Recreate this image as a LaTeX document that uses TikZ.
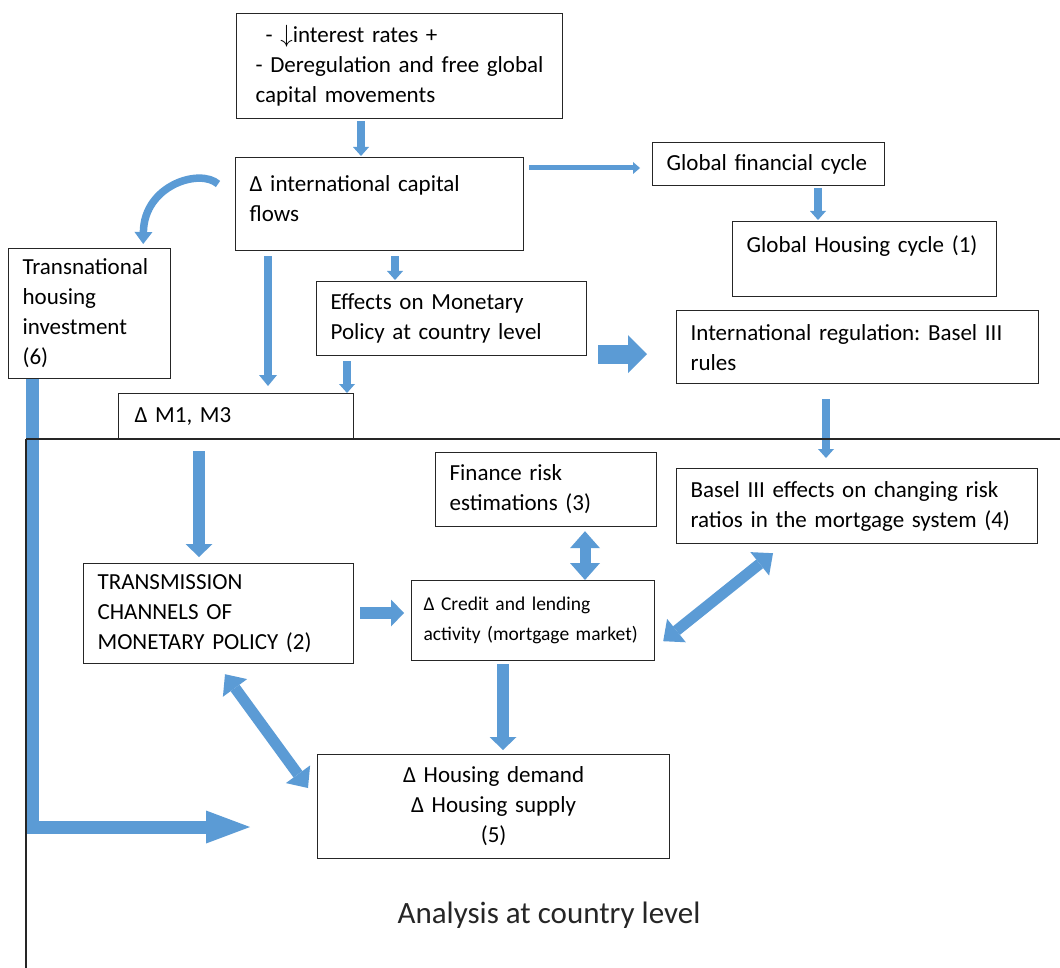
\documentclass[tikz,border=0pt]{standalone}
\usepackage{fontspec}
\setmainfont{Carlito}
\frenchspacing
\usetikzlibrary{arrows.meta,calc}
\definecolor{arrowblue}{HTML}{5B9BD5}
\definecolor{dark}{HTML}{262626}
\tikzset{
  box/.style={draw=dark, line width=1.2pt, anchor=north west, align=left, inner xsep=14pt, inner ysep=0pt, font=\fontsize{23}{30}\selectfont, execute at begin node={\hyphenpenalty=10000}},
  thinarrow/.style={draw=arrowblue, line width=5pt, -{Triangle[length=7pt,width=12pt,line width=0pt]}},
  smallarrow/.style={draw=arrowblue, line width=7.5pt, -{Triangle[length=9pt,width=16pt,line width=0pt]}},
  midarrow/.style={draw=arrowblue, line width=8pt, -{Triangle[length=11pt,width=18pt,line width=0pt]}},
  fatarrow/.style={draw=arrowblue, line width=12.5pt, -{Triangle[length=13pt,width=27pt,line width=0pt]}},
  bigarrow/.style={draw=arrowblue, line width=19pt, -{Triangle[length=19pt,width=38pt,line width=0pt]}},
  dblarrow/.style={draw=arrowblue, line width=11pt, {Triangle[length=17pt,width=30pt,line width=0pt]}-{Triangle[length=17pt,width=30pt,line width=0pt]}},
  curvearrow/.style={draw=arrowblue, line width=7.5pt, -{Triangle[length=12pt,width=18pt,line width=0pt]}},
  bentarrow/.style={draw=arrowblue, line width=13pt, line join=miter, -{Triangle[length=44pt,width=33pt,line width=0pt]}},
  divider/.style={draw=dark, line width=1.2pt}
}
\begin{document}
\begin{tikzpicture}[x=1pt, y=-1pt]
  \path[use as bounding box, fill=white] (0,0) rectangle (1060,968);
  % global level
  \node[box, inner xsep=19pt, text width=288pt, minimum height=105pt] (drivers) at (236,13) {\hspace*{10pt}- $\downarrow$interest rates +\\- Deregulation and free global\\capital movements};
  \node[box, text width=260pt, minimum height=93pt] (capflows) at (235,157) {Δ international capital\\flows\\[-18pt]\mbox{}};
  \node[box, text width=204pt, minimum height=43pt] (globalfin) at (652,142) {Global financial cycle};
  \node[box, text width=236pt, minimum height=75pt] (ghc) at (732,221) {Global Housing cycle (1)\\\mbox{}};
  \node[box, text width=334pt, minimum height=73pt] (intlreg) at (676,310) {International regulation: Basel III\\rules};
  \node[box, text width=134pt, minimum height=130pt] (transnat) at (8,248) {Transnational\\housing\\investment\\(6)};
  \node[box, text width=242pt, minimum height=74pt] (effects) at (316,281) {Effects on Monetary\\Policy at country level};
  \node[box, inner xsep=16pt, text width=203pt, minimum height=45pt] (money) at (118,393) {Δ M1, M3};
  % country level
  \node[box, text width=242pt, minimum height=100pt] (channels) at (83,563) {TRANSMISSION\\CHANNELS OF\\MONETARY POLICY (2)};
  \node[box, inner xsep=12pt, text width=219pt, minimum height=80pt, font=\fontsize{19.5}{30}\selectfont] (credit) at (411,580) {Δ Credit and lending\\activity~(mortgage~market)};
  \node[box, text width=193pt, minimum height=74pt] (risk) at (435,452) {Finance risk\\estimations (3)};
  \node[box, text width=333pt, minimum height=75pt] (baselfx) at (676,468) {Basel III effects on changing risk\\ratios in the mortgage system (4)};
  \node[box, align=center, text width=324pt, minimum height=104pt] (housing) at (317,754) {Δ Housing demand\\Δ Housing supply\\(5)};
  \node[font=\fontsize{31}{38}\selectfont, text=black!85] (analysis) at (549,915) {Analysis at country level};
  \coordinate (invest) at (250,827);

  \draw[smallarrow] ($(drivers.south west)+(125,2)$) -- ($(capflows.north west)+(126,-1)$);
  \draw[thinarrow] ($(capflows.north east)+(5,11)$) -- ($(globalfin.west |- capflows.north east)+(-12,11)$);
  \draw[smallarrow] ($(globalfin.south west)+(166,2)$) -- ($(ghc.north west)+(86,-1)$);
  \draw[curvearrow] ($(capflows.north west)+(-17,27)$) .. controls ($(capflows.north west)+(-35,11)$) and ($(transnat.north east)+(-27,-63)$) .. ($(transnat.north east)+(-28,-4)$);
  \draw[midarrow] ($(capflows.south west)+(33,5)$) -- ($(money.north west)+(150,-7)$);
  \draw[smallarrow] ($(capflows.south west)+(160,5)$) -- ($(effects.north west)+(79,-1)$);
  \draw[smallarrow] ($(effects.south west)+(31,5)$) -- ($(money.north west)+(229,0)$);
  \draw[bigarrow] ($(effects.south east)+(11,-2)$) -- ($(intlreg.south west)+(-29,-30)$);
  \draw[smallarrow] ($(intlreg.south west)+(150,15)$) -- ($(baselfx.north west)+(150,-10)$);
  \draw[fatarrow] ($(money.south west)+(81,12)$) -- ($(channels.north west)+(116,-6)$);
  \draw[fatarrow] ($(channels.north east)+(6,50)$) -- ($(credit.north west)+(-7,33)$);
  \draw[dblarrow] ($(risk.south west)+(150,4)$) -- ($(credit.north west)+(174,0)$);
  \draw[dblarrow] ($(credit.south east)+(8,-20)$) -- ($(baselfx.south west)+(97,9)$);
  \draw[fatarrow] ($(credit.south west)+(92,3)$) -- ($(housing.north west)+(186,-4)$);
  \draw[dblarrow] ($(channels.south west)+(142,10)$) -- ($(housing.north west)+(-9,34)$);
  \draw[bentarrow] ($(transnat.south west)+(24.5,0)$) |- (invest);

  % level dividers
  \draw[divider] (26,439) -- (1060,439);
  \draw[divider] (26,439) -- (26,968);
\end{tikzpicture}
\end{document}
